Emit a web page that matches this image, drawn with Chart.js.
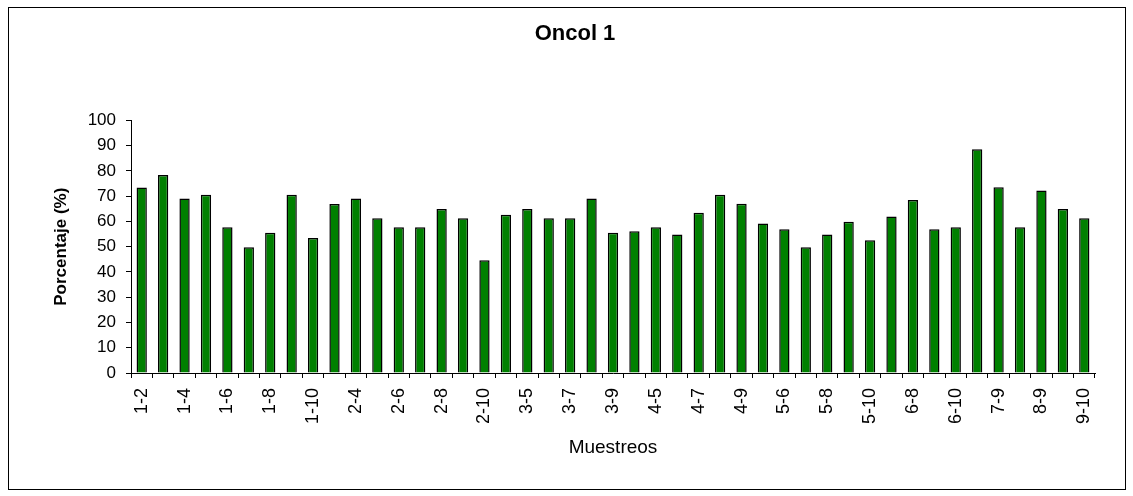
<!DOCTYPE html>
<html>
<head>
<meta charset="utf-8">
<title>Oncol 1</title>
<script src="https://cdn.jsdelivr.net/npm/chart.js@4.4.1/dist/chart.umd.min.js"></script>
<style>
  html, body { margin: 0; padding: 0; background: #fff; }
  #wrap { position: relative; width: 1133px; height: 496px; overflow: hidden; }
  #frame { position: absolute; left: 8px; top: 7px; width: 1118px; height: 483px; border: 1px solid #000; box-sizing: border-box; pointer-events: none; }
  canvas { position: absolute; left: 0; top: 0; }
</style>
</head>
<body>
<div id="wrap">
  <canvas id="c" width="1133" height="496"></canvas>
  <div id="frame"></div>
</div>
<script>
// Sampling pairs (i-j) and the percentage for each pair
const categories = [
  '1-2','1-3','1-4','1-5','1-6','1-7','1-8','1-9','1-10',
  '2-3','2-4','2-5','2-6','2-7','2-8','2-9','2-10',
  '3-4','3-5','3-6','3-7','3-8','3-9','3-10',
  '4-5','4-6','4-7','4-8','4-9','4-10',
  '5-6','5-7','5-8','5-9','5-10',
  '6-7','6-8','6-9','6-10',
  '7-8','7-9','7-10',
  '8-9','8-10',
  '9-10'
];
const porcentaje = [
  73.4, 78.4, 69.1, 70.6, 57.7, 49.8, 55.5, 70.6, 53.4,
  66.9, 69.1, 61.3, 57.7, 57.7, 64.9, 61.3, 44.6,
  62.6, 64.9, 61.3, 61.3, 69.1, 55.5, 56.1,
  57.7, 54.8, 63.4, 70.6, 67.0, 59.2,
  56.9, 49.8, 54.8, 59.9, 52.6,
  62.0, 68.5, 56.9, 57.7,
  88.6, 73.5, 57.7,
  72.2, 64.9,
  61.3
];
const yTicks = [0, 10, 20, 30, 40, 50, 60, 70, 80, 90, 100];

const FONT = '"Liberation Sans", Arial, sans-serif';

new Chart(document.getElementById('c'), {
  type: 'bar',
  data: {
    labels: categories,
    datasets: [{
      data: porcentaje,
      backgroundColor: '#008000',
      borderColor: '#000000',
      borderWidth: 1.5,
      barPercentage: 0.48,
      categoryPercentage: 1.0
    }]
  },
  options: {
    responsive: false,
    animation: false,
    devicePixelRatio: 1,
    layout: { padding: { top: 0, right: 38, bottom: 0, left: 55 } },
    plugins: {
      legend: { display: false },
      tooltip: { enabled: false },
      title: {
        display: true,
        text: 'Oncol 1',
        color: '#000',
        font: { family: FONT, size: 22, weight: 'bold', lineHeight: 1.2 },
        padding: { top: 21, bottom: 73 }
      }
    },
    scales: {
      x: {
        afterFit: s => { s.height = 123; },
        border: { display: true, color: '#000', width: 1 },
        grid: { display: true, offset: true, drawOnChartArea: false, drawTicks: true, tickLength: 5, color: '#000' },
        ticks: {
          autoSkip: false,
          minRotation: 90,
          maxRotation: 90,
          padding: 10,
          color: '#000',
          font: { family: FONT, size: 18 },
          callback: function (value, index) {
            return index % 2 === 0 ? categories[index] : '';
          }
        },
        title: {
          display: true,
          text: 'Muestreos',
          color: '#000',
          font: { family: FONT, size: 19 },
          padding: { top: 0, bottom: 37 }
        }
      },
      y: {
        min: yTicks[0],
        max: yTicks[yTicks.length - 1],
        afterFit: s => { s.width = 76; },
        afterBuildTicks: s => { s.ticks = yTicks.map(v => ({ value: v })); },
        border: { display: true, color: '#000', width: 1 },
        grid: { display: true, drawOnChartArea: false, drawTicks: true, tickLength: 5, color: '#000' },
        ticks: {
          padding: 10,
          color: '#000',
          font: { family: FONT, size: 17 }
        },
        title: {
          display: true,
          text: 'Porcentaje (%)',
          color: '#000',
          font: { family: FONT, size: 17, weight: 'bold', lineHeight: 1.2 },
          padding: { top: -4, bottom: 0 }
        }
      }
    }
  }
});
</script>
</body>
</html>
